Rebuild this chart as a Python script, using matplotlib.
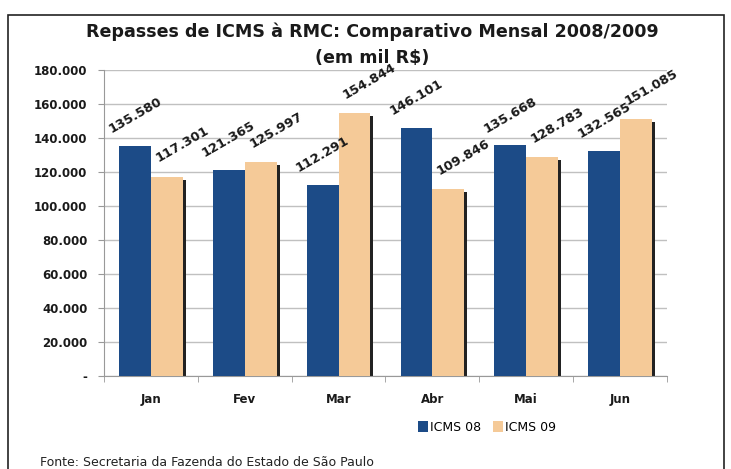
import matplotlib
matplotlib.use("Agg")
import matplotlib.pyplot as plt
import matplotlib.patches as mpatches
from matplotlib.transforms import ScaledTranslation
import numpy as np

meses = ["Jan", "Fev", "Mar", "Abr", "Mai", "Jun"]
icms_08 = [135580, 121365, 112291, 146101, 135668, 132565]
icms_09 = [117301, 125997, 154844, 109846, 128783, 151085]
y_ticks = [0, 20000, 40000, 60000, 80000, 100000, 120000, 140000, 160000, 180000]

AZUL = "#1c4b87"
LARANJA = "#f5ca98"


def formatar(v):
    if v == 0:
        return "-"
    return f"{v:,}".replace(",", ".")


fig = plt.figure(figsize=(7.31, 4.69), dpi=100)
ax = fig.add_axes([0.1423, 0.1983, 0.7701, 0.6524])

# moldura em volta do grafico
fig.patches.append(mpatches.Rectangle((8 / 731, -0.1), 716 / 731, 1.1 - 15 / 469,
                                      transform=fig.transFigure, fill=False,
                                      edgecolor="#222222", linewidth=1.2))

x = np.arange(len(meses))
largura = 0.34

# sombra das barras laranja
sombra = ax.bar(x + largura / 2, icms_09, largura, color="#222222", zorder=2)
desloc = ScaledTranslation(3 / 100, -3 / 100, fig.dpi_scale_trans)
for p in sombra:
    p.set_transform(ax.transData + desloc)

b08 = ax.bar(x - largura / 2, icms_08, largura, color=AZUL, zorder=3, label="ICMS 08")
b09 = ax.bar(x + largura / 2, icms_09, largura, color=LARANJA, zorder=3, label="ICMS 09")

for xi, v in zip(x, icms_08):
    ax.annotate(formatar(v), (xi - largura / 2, v), xytext=(0, 22), textcoords="offset points",
                ha="center", va="center", rotation=30, fontsize=9.4, fontweight="bold",
                color="#1a1a1a", zorder=5)
for xi, v in zip(x, icms_09):
    ax.annotate(formatar(v), (xi + largura / 2, v), xytext=(11, 23), textcoords="offset points",
                ha="center", va="center", rotation=30, fontsize=9.4, fontweight="bold",
                color="#1a1a1a", zorder=5)

ax.set_xlim(-0.5, len(meses) - 0.5)
ax.set_ylim(0, 180000)
ax.set_yticks(y_ticks)
ax.set_yticklabels([formatar(v) for v in y_ticks], fontsize=8.5, fontweight="bold",
                   color="#1a1a1a")
ax.set_xticks(x)
ax.set_xticklabels(meses, fontsize=8.5, fontweight="bold", color="#1a1a1a")
ax.tick_params(axis="x", length=0, pad=12)
ax.set_xticks(np.arange(len(meses) + 1) - 0.5, minor=True)
ax.tick_params(axis="x", which="minor", length=4, color="#999999")
ax.tick_params(axis="y", length=4, color="#999999", pad=8)

ax.grid(axis="y", color="#c0c0c0", linewidth=1)
ax.set_axisbelow(True)
for lado in ["top", "right"]:
    ax.spines[lado].set_visible(False)
ax.spines["left"].set_color("#999999")
ax.spines["bottom"].set_color("#999999")

fig.text(0.509, 0.932, "Repasses de ICMS à RMC: Comparativo Mensal 2008/2009",
         ha="center", va="center", fontsize=12.6, fontweight="bold", color="#1a1a1a")
fig.text(0.509, 0.877, "(em mil R$)", ha="center", va="center", fontsize=12.6,
         fontweight="bold", color="#1a1a1a")

fig.legend(handles=[b08, b09], loc="center", bbox_to_anchor=(0.666, 0.089), ncol=2,
           frameon=False, fontsize=9, handlelength=0.8, handleheight=0.9,
           handletextpad=0.2, columnspacing=0.9)

fig.text(40 / 731, 1 - 462 / 469, "Fonte: Secretaria da Fazenda do Estado de São Paulo",
         ha="left", va="center", fontsize=9, color="#222222")

fig.savefig("out.png", dpi=100)
